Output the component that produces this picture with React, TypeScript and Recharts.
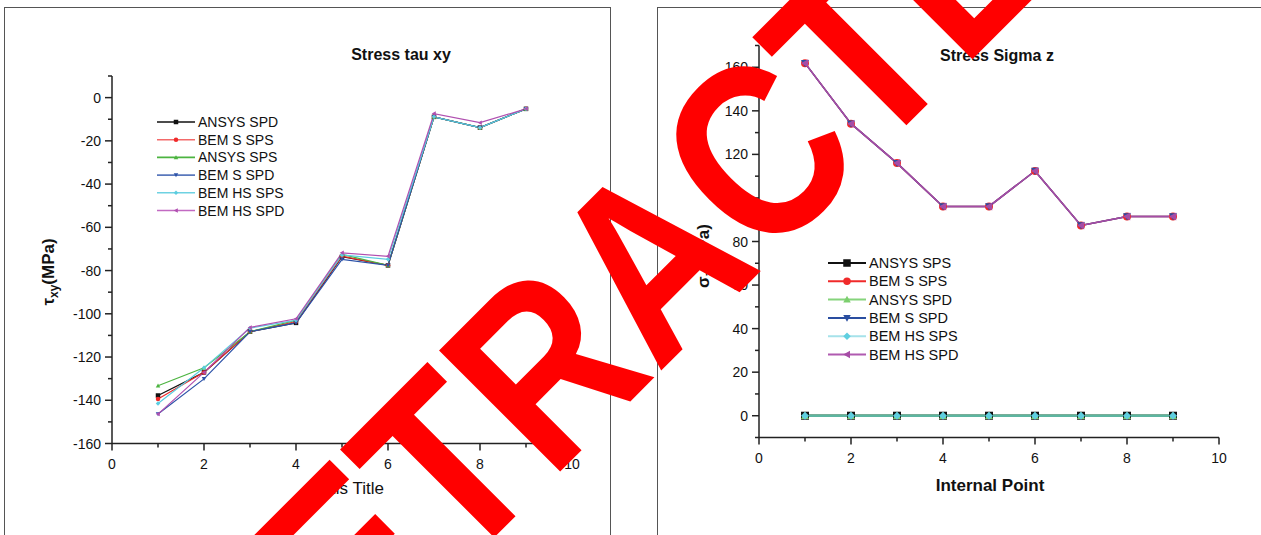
import { LineChart, Line, XAxis, YAxis, Legend } from "recharts"

const FONT = "'Liberation Sans', Arial, sans-serif"

// internal point index along the section
const points = [1, 2, 3, 4, 5, 6, 7, 8, 9]

// shear stress tau xy (MPa)
const tauAnsysSpd = [-137.8, -127.1, -108.3, -104.2, -73.6, -77.6, -8.9, -13.9, -5.2]
const tauBemSSps = [-139.4, -127.1, -108.3, -103.6, -73.3, -77.6, -8.9, -13.9, -5.2]
const tauAnsysSps = [-133.3, -125.0, -108.3, -103.0, -72.5, -77.6, -8.9, -13.9, -5.2]
const tauBemSSpd = [-146.4, -130.1, -108.3, -104.2, -74.8, -77.6, -8.9, -13.9, -5.2]
const tauBemHsSps = [-141.5, -125.0, -106.6, -103.0, -72.8, -74.8, -8.9, -13.9, -5.2]
const tauBemHsSpd = [-146.4, -127.1, -106.3, -102.3, -71.8, -73.4, -7.4, -11.6, -5.2]

// normal stress sigma z (MPa)
const sigAnsysSps = [0, 0, 0, 0, 0, 0, 0, 0, 0]
const sigBemSSps = [161.9, 134.1, 116.0, 96.1, 96.1, 112.4, 87.4, 91.5, 91.5]
const sigAnsysSpd = [0, 0, 0, 0, 0, 0, 0, 0, 0]
const sigBemSSpd = [161.9, 134.1, 116.0, 96.1, 96.1, 112.4, 87.4, 91.5, 91.5]
const sigBemHsSps = [0, 0, 0, 0, 0, 0, 0, 0, 0]
const sigBemHsSpd = [161.9, 134.1, 116.0, 96.1, 96.1, 112.4, 87.4, 91.5, 91.5]

const xTicks = [0, 1, 2, 3, 4, 5, 6, 7, 8, 9, 10]
const tauTicks = [-160, -150, -140, -130, -120, -110, -100, -90, -80, -70, -60, -50, -40, -30, -20, -10, 0, 10]
const sigTicks = [-10, 0, 10, 20, 30, 40, 50, 60, 70, 80, 90, 100, 110, 120, 130, 140, 150, 160, 170]

type Shape = "square" | "circle" | "up" | "down" | "diamond" | "left"

interface Series {
  key: string
  name: string
  color: string
  legendColor: string
  shape: Shape
  width: number
  opacity?: number
}

const tauSeries: Series[] = [
  { key: "ansysSpd", name: "ANSYS SPD", color: "#111111", legendColor: "#111111", shape: "square", width: 1.2 },
  { key: "bemSSps", name: "BEM S SPS", color: "#f02a2a", legendColor: "#f36a6a", shape: "circle", width: 1.2 },
  { key: "ansysSps", name: "ANSYS SPS", color: "#4cb440", legendColor: "#4cb440", shape: "up", width: 1.2 },
  { key: "bemSSpd", name: "BEM S SPD", color: "#2c52a8", legendColor: "#5a78bc", shape: "down", width: 1.2 },
  { key: "bemHsSps", name: "BEM HS SPS", color: "#5ccde0", legendColor: "#6ed2e2", shape: "diamond", width: 1.2 },
  { key: "bemHsSpd", name: "BEM HS SPD", color: "#b04fb0", legendColor: "#c26ac2", shape: "left", width: 1.2 },
]

const sigSeries: Series[] = [
  { key: "ansysSps", name: "ANSYS SPS", color: "#111111", legendColor: "#111111", shape: "square", width: 2.5 },
  { key: "bemSSps", name: "BEM S SPS", color: "#f02a2a", legendColor: "#f02a2a", shape: "circle", width: 1.5 },
  { key: "ansysSpd", name: "ANSYS SPD", color: "#7ccf6e", legendColor: "#86d47c", shape: "up", width: 2.5, opacity: 0.7 },
  { key: "bemSSpd", name: "BEM S SPD", color: "#2a4ea0", legendColor: "#2a4ea0", shape: "down", width: 1.5 },
  { key: "bemHsSps", name: "BEM HS SPS", color: "#5fcfe0", legendColor: "#a6e2ea", shape: "diamond", width: 2.5, opacity: 0.55 },
  { key: "bemHsSpd", name: "BEM HS SPD", color: "#a64ca6", legendColor: "#b05ab0", shape: "left", width: 1.5 },
]

const tauData = points.map((p, i) => ({
  point: p,
  ansysSpd: tauAnsysSpd[i],
  bemSSps: tauBemSSps[i],
  ansysSps: tauAnsysSps[i],
  bemSSpd: tauBemSSpd[i],
  bemHsSps: tauBemHsSps[i],
  bemHsSpd: tauBemHsSpd[i],
}))

const sigData = points.map((p, i) => ({
  point: p,
  ansysSps: sigAnsysSps[i],
  bemSSps: sigBemSSps[i],
  ansysSpd: sigAnsysSpd[i],
  bemSSpd: sigBemSSpd[i],
  bemHsSps: sigBemHsSps[i],
  bemHsSpd: sigBemHsSpd[i],
}))

function Marker({ cx, cy, shape, size, color }: { cx: number; cy: number; shape: Shape; size: number; color: string }) {
  const r = size / 2
  if (cx == null || cy == null) return null
  switch (shape) {
    case "square":
      return <rect x={cx - r} y={cy - r} width={size} height={size} fill={color} />
    case "circle":
      return <circle cx={cx} cy={cy} r={r} fill={color} />
    case "up":
      return <polygon points={`${cx},${cy - r} ${cx + r},${cy + r * 0.8} ${cx - r},${cy + r * 0.8}`} fill={color} />
    case "down":
      return <polygon points={`${cx},${cy + r} ${cx + r},${cy - r * 0.8} ${cx - r},${cy - r * 0.8}`} fill={color} />
    case "diamond":
      return <polygon points={`${cx},${cy - r} ${cx + r},${cy} ${cx},${cy + r} ${cx - r},${cy}`} fill={color} />
    case "left":
      return <polygon points={`${cx - r},${cy} ${cx + r * 0.8},${cy - r} ${cx + r * 0.8},${cy + r}`} fill={color} />
  }
  return null
}

// tick marks are drawn here: long for labelled values, short for the rest
function makeXTick(majorStep: number) {
  return (props: any) => {
    const { x, y, payload } = props
    const major = payload.value % majorStep === 0
    return (
      <g>
        <line x1={x} x2={x} y1={y} y2={y + (major ? 7 : 4)} stroke="#222" strokeWidth={1.5} />
        {major && (
          <text x={x} y={y + 25} textAnchor="middle" fontSize={14} fill="#111" fontFamily={FONT}>
            {payload.value}
          </text>
        )}
      </g>
    )
  }
}

function makeYTick(majorStep: number) {
  return (props: any) => {
    const { x, y, payload } = props
    const major = payload.value % majorStep === 0
    return (
      <g>
        <line x1={x} x2={x - (major ? 7 : 4)} y1={y} y2={y} stroke="#222" strokeWidth={1.5} />
        {major && (
          <text x={x - 11} y={y + 5} textAnchor="end" fontSize={14} fill="#111" fontFamily={FONT}>
            {payload.value}
          </text>
        )}
      </g>
    )
  }
}

function makeLegend(series: Series[], rowGap: number, markerSize: number, fontSize: number, lineWidth: number) {
  return (props: any) => {
    const order = series.map((s) => s.key)
    const items = [...(props.payload || [])].sort(
      (a: any, b: any) => order.indexOf(a.dataKey) - order.indexOf(b.dataKey)
    )
    return (
      <svg width={180} height={items.length * rowGap + 6} style={{ display: "block" }}>
        {items.map((item: any, i: number) => {
          const s = series.find((d) => d.key === item.dataKey)!
          const y = 8 + i * rowGap
          return (
            <g key={s.key}>
              <line x1={0} x2={38} y1={y} y2={y} stroke={s.legendColor} strokeWidth={lineWidth} />
              <Marker cx={19} cy={y} shape={s.shape} size={markerSize} color={s.color} />
              <text x={41} y={y + 5} fontSize={fontSize} fill="#111" fontFamily={FONT}>
                {item.value}
              </text>
            </g>
          )
        })}
      </svg>
    )
  }
}

const axisLine = { stroke: "#222", strokeWidth: 1.5 }

export default function App() {
  return (
    <div
      style={{
        position: "absolute",
        left: 0,
        top: 0,
        width: 1261,
        height: 535,
        background: "#fff",
        overflow: "hidden",
        fontFamily: FONT,
      }}
    >
      <div style={{ position: "absolute", left: 4, top: 7, width: 607, height: 560, border: "1.5px solid #555", boxSizing: "border-box" }} />
      <div style={{ position: "absolute", left: 657, top: 7, width: 640, height: 560, border: "1.5px solid #555", boxSizing: "border-box" }} />

      <div style={{ position: "absolute", left: 0, top: 0 }}>
        <LineChart width={620} height={535} data={tauData} margin={{ top: 76, right: 48, bottom: 61.5, left: 52 }}>
          <XAxis
            dataKey="point"
            type="number"
            domain={[0, 10]}
            ticks={xTicks}
            interval={0}
            height={30}
            axisLine={axisLine}
            tickLine={false}
            tickSize={0}
            tickMargin={0}
            tick={makeXTick(2)}
          />
          <YAxis
            type="number"
            domain={[-160, 10]}
            ticks={tauTicks}
            interval={0}
            width={60}
            axisLine={axisLine}
            tickLine={false}
            tickSize={0}
            tickMargin={0}
            tick={makeYTick(20)}
          />
          <Legend
            layout="vertical"
            align="center"
            verticalAlign="middle"
            wrapperStyle={{ left: 157, top: 114, width: 180 }}
            content={makeLegend(tauSeries, 17.7, 4.5, 14, 1.6)}
          />
          {tauSeries.map((s) => (
            <Line
              key={s.key}
              dataKey={s.key}
              name={s.name}
              stroke={s.color}
              strokeWidth={s.width}
              isAnimationActive={false}
              activeDot={false}
              dot={(p: any) => <Marker key={`${s.key}-${p.index}`} cx={p.cx} cy={p.cy} shape={s.shape} size={4.5} color={s.color} />}
            />
          ))}
        </LineChart>
      </div>

      <div style={{ position: "absolute", left: 640, top: 0 }}>
        <LineChart width={621} height={535} data={sigData} margin={{ top: 45.5, right: 42, bottom: 67.5, left: 59 }}>
          <XAxis
            dataKey="point"
            type="number"
            domain={[0, 10]}
            ticks={xTicks}
            interval={0}
            height={30}
            axisLine={axisLine}
            tickLine={false}
            tickSize={0}
            tickMargin={0}
            tick={makeXTick(2)}
          />
          <YAxis
            type="number"
            domain={[-10, 170]}
            ticks={sigTicks}
            interval={0}
            width={60}
            axisLine={axisLine}
            tickLine={false}
            tickSize={0}
            tickMargin={0}
            tick={makeYTick(20)}
          />
          <Legend
            layout="vertical"
            align="center"
            verticalAlign="middle"
            wrapperStyle={{ left: 188, top: 255, width: 180 }}
            content={makeLegend(sigSeries, 18.3, 7.5, 14.5, 2)}
          />
          {sigSeries.map((s) => (
            <Line
              key={s.key}
              dataKey={s.key}
              name={s.name}
              stroke={s.color}
              strokeWidth={s.width}
              strokeOpacity={s.opacity ?? 1}
              isAnimationActive={false}
              activeDot={false}
              dot={(p: any) => <Marker key={`${s.key}-${p.index}`} cx={p.cx} cy={p.cy} shape={s.shape} size={8} color={s.color} />}
            />
          ))}
        </LineChart>
      </div>

      {/* titles and axis titles */}
      <svg width={1261} height={535} style={{ position: "absolute", left: 0, top: 0, pointerEvents: "none" }}>
        <text x={401} y={60} textAnchor="middle" fontSize={16} fontWeight={700} fill="#111" fontFamily={FONT}>
          Stress tau xy
        </text>
        <text x={997} y={61} textAnchor="middle" fontSize={16} fontWeight={700} fill="#111" fontFamily={FONT}>
          Stress Sigma z
        </text>
        <text x={350} y={494} textAnchor="middle" fontSize={17} fill="#111" fontFamily={FONT}>
          Axis Title
        </text>
        <text x={990} y={491} textAnchor="middle" fontSize={17} fontWeight={700} fill="#111" fontFamily={FONT}>
          Internal Point
        </text>
        <text transform="translate(54 272) rotate(-90)" textAnchor="middle" fontSize={17} fontWeight={700} fill="#111" fontFamily={FONT}>
          τ<tspan fontSize={12} dy={4}>xy</tspan>
          <tspan dy={-4}>(MPa)</tspan>
        </text>
        <text transform="translate(709 256) rotate(-90)" textAnchor="middle" fontSize={17} fontWeight={700} fill="#111" fontFamily={FONT}>
          σ<tspan fontSize={12} dy={4}>z</tspan>
          <tspan dy={-4}>(MPa)</tspan>
        </text>
      </svg>

      {/* diagonal stamp across both panels */}
      <svg width={1261} height={535} style={{ position: "absolute", left: 0, top: 0, pointerEvents: "none" }}>
        <text
          transform="translate(711 320.7) rotate(-45) scale(0.843 1)"
          textAnchor="middle"
          fontSize={249}
          fontWeight={700}
          fill="#ff0000"
          fontFamily={FONT}
        >
          RETRACTED
        </text>
      </svg>
    </div>
  )
}
